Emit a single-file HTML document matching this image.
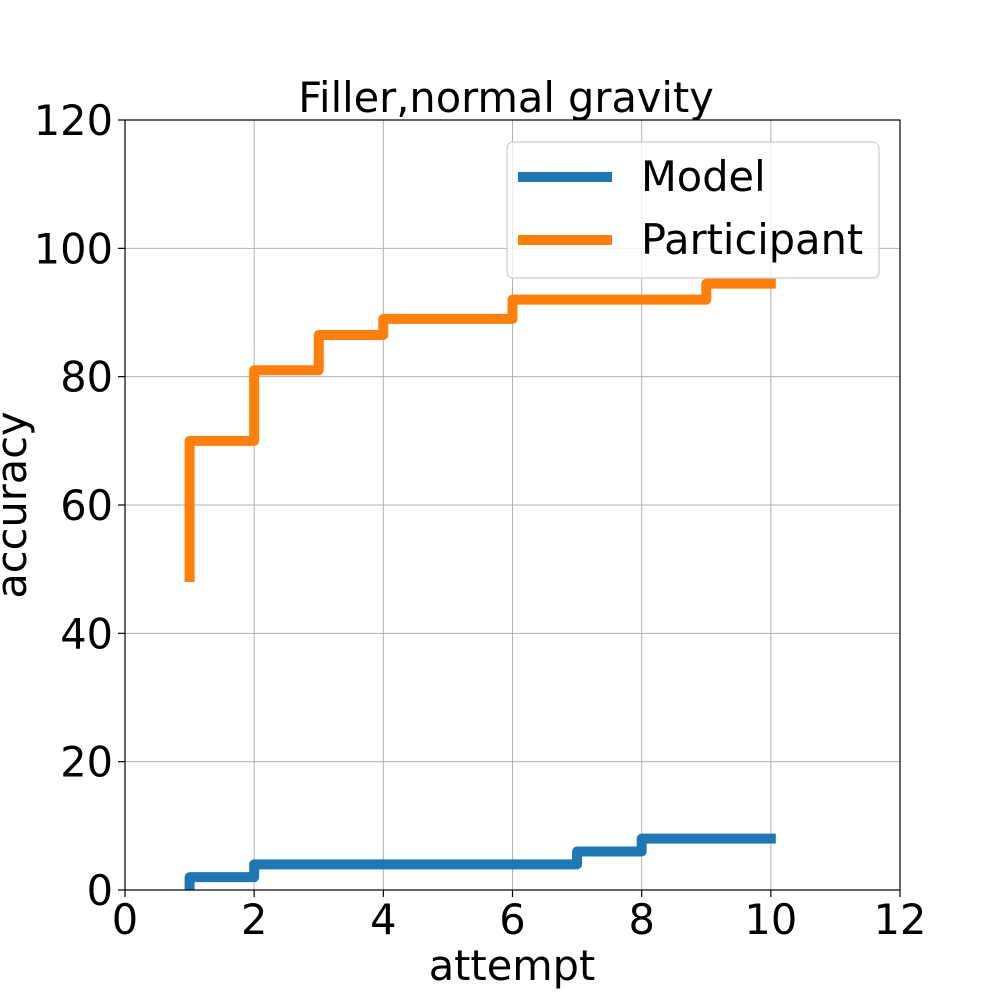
<!DOCTYPE html>
<html><head><meta charset="utf-8"><style>body{margin:0;background:#fff}svg{display:block;font-family:"DejaVu Sans","Liberation Sans",sans-serif}</style></head>
<body>
<svg id="chart" width="1000" height="1000">
<rect x="0" y="0" width="1000" height="1000" fill="#fff"/>
<g id="grid"></g>
<g id="series"></g>
<rect x="125" y="120" width="775" height="770" fill="none" stroke="#000" stroke-width="1.2"/>
<g id="ticks"></g>
<text x="506" y="112" font-size="41.5" text-anchor="middle">Filler,normal gravity</text>
<text x="512" y="980" font-size="41.5" text-anchor="middle">attempt</text>
<text transform="translate(26,505) rotate(-90)" font-size="41.5" text-anchor="middle">accuracy</text>
<g>
<rect x="507" y="142" width="372" height="136" rx="6" fill="#fff" fill-opacity="0.8" stroke="#ccc" stroke-width="1.2"/>
<line x1="518" y1="177" x2="612" y2="177" stroke="#1f77b4" stroke-width="10"/>
<text x="641" y="191" font-size="41.5">Model</text>
<line x1="518" y1="240" x2="612" y2="240" stroke="#ff7f0e" stroke-width="10"/>
<text x="641" y="254" font-size="41.5">Participant</text>
</g>
</svg>
<script>
const attempts = [1,2,3,4,5,6,7,8,9,10];
const modelValues = [0,2,4,4,4,4,4,6,8,8];
const participantValues = [48,70,81,86.5,89,89,92,92,92,94.5];
const xTicks = [0,2,4,6,8,10,12];
const yTicks = [0,20,40,60,80,100,120];
const NS="http://www.w3.org/2000/svg";
const X0=125,X1=900,Y0=890,Y1=120;
const xs=v=>X0+(v-0)/12*(X1-X0);
const ys=v=>Y0-(v-0)/120*(Y0-Y1);
const grid=document.getElementById('grid'),ticks=document.getElementById('ticks'),ser=document.getElementById('series');
function mk(t,a){const e=document.createElementNS(NS,t);for(const k in a)e.setAttribute(k,a[k]);return e;}
xTicks.forEach(t=>{
 const g=mk('line',{x1:xs(t),x2:xs(t),y1:Y1,y2:Y0,stroke:'#b0b0b0','stroke-width':1});
 
 
 grid.appendChild(g);
 const tk=mk('line',{x1:xs(t),x2:xs(t),y1:Y0,y2:Y0+7,stroke:'#000','stroke-width':1.2});
 
 
 ticks.appendChild(tk);
 const l=mk('text',{x:xs(t),y:934,'font-size':41.5,'text-anchor':'middle'});
 l.textContent=t;
 
 
 ticks.appendChild(l);
});
yTicks.forEach(t=>{
 const g=mk('line',{x1:X0,x2:X1,y1:ys(t),y2:ys(t),stroke:'#b0b0b0','stroke-width':1});
 
 
 grid.appendChild(g);
 const tk=mk('line',{x1:X0-7,x2:X0,y1:ys(t),y2:ys(t),stroke:'#000','stroke-width':1.2});
 
 
 ticks.appendChild(tk);
 const l=mk('text',{x:X0-12,y:ys(t)+15,'font-size':41.5,'text-anchor':'end'});
 l.textContent=t;
 
 
 ticks.appendChild(l);
});
function stepPath(xv,yv){let d='M'+xs(xv[0])+','+ys(yv[0]);for(let i=1;i<xv.length;i++){d+=' L'+xs(xv[i-1])+','+ys(yv[i])+' L'+xs(xv[i])+','+ys(yv[i]);}d+=' h5';return d;}
const pm=mk('path',{d:stepPath(attempts,modelValues),fill:'none',stroke:'#1f77b4','stroke-width':10,'stroke-linejoin':'round'});


ser.appendChild(pm);
const pp=mk('path',{d:stepPath(attempts,participantValues),fill:'none',stroke:'#ff7f0e','stroke-width':10,'stroke-linejoin':'round'});


ser.appendChild(pp);
</script>
</body></html>
